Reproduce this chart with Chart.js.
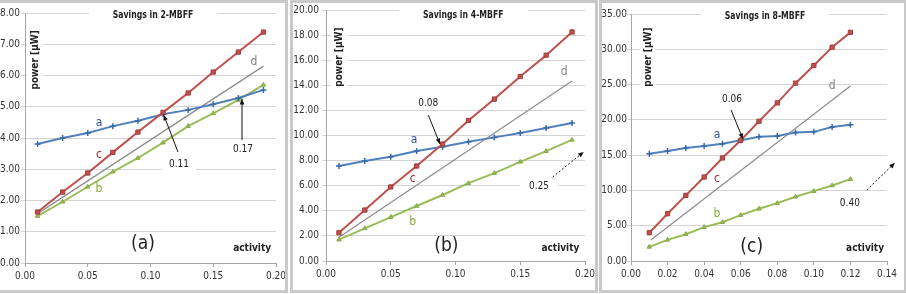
<!DOCTYPE html>
<html>
<head>
<meta charset="utf-8">
<script src="https://cdn.jsdelivr.net/npm/chart.js@4.4.1/dist/chart.umd.min.js"></script>
<style>
body { margin: 0; width: 906px; height: 294px; overflow: hidden; background: #fff; position: relative; }
.panel { position: absolute; top: 0; height: 293px; border: 3px solid #c9c9c9; box-sizing: border-box; background: #fff; }
.panel canvas { position: absolute; left: 0; top: 0; }
</style>
</head>
<body>
<div class="panel" style="left:-3px;width:291px"><canvas id="c1" width="285" height="287"></canvas></div>
<div class="panel" style="left:290px;width:308px"><canvas id="c2" width="302" height="287"></canvas></div>
<div class="panel" style="left:599px;width:308px"><canvas id="c3" width="302" height="287"></canvas></div>
<script>
// panel (a): 2-MBFF
const xs1 = [0.01, 0.03, 0.05, 0.07, 0.09, 0.11, 0.13, 0.15, 0.17, 0.19];
const a1 = [3.81, 4.00, 4.16, 4.38, 4.55, 4.76, 4.90, 5.08, 5.28, 5.54];
const c1 = [1.63, 2.27, 2.88, 3.54, 4.19, 4.82, 5.44, 6.11, 6.75, 7.39];
const b1 = [1.50, 1.96, 2.44, 2.92, 3.36, 3.85, 4.38, 4.79, 5.22, 5.70];
const dx1 = [0.01, 0.19];
const d1 = [1.58, 6.30];

// panel (b): 4-MBFF
const xs2 = [0.01, 0.03, 0.05, 0.07, 0.09, 0.11, 0.13, 0.15, 0.17, 0.19];
const a2 = [7.57, 7.97, 8.30, 8.76, 9.10, 9.50, 9.85, 10.20, 10.60, 11.00];
const c2 = [2.25, 4.06, 5.90, 7.57, 9.32, 11.20, 12.90, 14.70, 16.40, 18.25];
const b2 = [1.70, 2.60, 3.50, 4.38, 5.26, 6.20, 7.00, 7.90, 8.75, 9.65];
const dx2 = [0.01, 0.19];
const d2 = [1.90, 14.35];

// panel (c): 8-MBFF
const xs3 = [0.01, 0.02, 0.03, 0.04, 0.05, 0.06, 0.07, 0.08, 0.09, 0.10, 0.11, 0.12];
const a3 = [15.2, 15.6, 16.0, 16.3, 16.6, 17.1, 17.6, 17.7, 18.2, 18.3, 19.0, 19.3];
const c3 = [4.0, 6.7, 9.3, 11.9, 14.6, 17.1, 19.8, 22.4, 25.2, 27.7, 30.3, 32.4];
const b3 = [2.0, 3.0, 3.8, 4.8, 5.5, 6.5, 7.4, 8.2, 9.1, 9.9, 10.7, 11.6];
const dx3 = [0.011, 0.12];
const d3 = [3.0, 24.8];

const FONT = '"Liberation Sans Narrow", "DejaVu Sans Condensed", "Liberation Sans", sans-serif';

const pts = (xs, ys) => xs.map((x, i) => ({ x: x, y: ys[i] }));

// text / arrow overlay drawn in data coordinates
const notes = {
    id: 'notes',
    beforeDatasetsDraw(chart, args, opts) {
        const { ctx, scales: { x, y } } = chart;
        ctx.save();
        for (const t of opts.texts || []) {
            if (!t.bg) continue;
            ctx.font = t.font;
            const w = ctx.measureText(t.text).width * (t.sx || 1);
            const h = parseFloat(t.font.match(/(\d+(\.\d+)?)px/)[1]);
            const px = x.getPixelForValue(t.x), py = y.getPixelForValue(t.y);
            ctx.fillStyle = '#fff';
            if (t.rot) {
                ctx.fillRect(px - h / 2 - t.bg[1], py - w / 2 - t.bg[0], h + 2 * t.bg[1], w + 2 * t.bg[0]);
            } else {
                ctx.fillRect(px - w / 2 - t.bg[0], py - h / 2 - t.bg[1], w + 2 * t.bg[0], h + 2 * t.bg[1]);
            }
        }
        ctx.restore();
    },
    afterDatasetsDraw(chart, args, opts) {
        const { ctx, scales: { x, y } } = chart;
        ctx.save();
        for (const ar of opts.arrows || []) {
            const x0 = x.getPixelForValue(ar.from[0]), y0 = y.getPixelForValue(ar.from[1]);
            const x1 = x.getPixelForValue(ar.to[0]), y1 = y.getPixelForValue(ar.to[1]);
            ctx.strokeStyle = '#111';
            ctx.fillStyle = '#111';
            ctx.lineWidth = 1;
            ctx.setLineDash(ar.dash ? [2, 2] : []);
            ctx.beginPath();
            ctx.moveTo(x0, y0);
            ctx.lineTo(x1, y1);
            ctx.stroke();
            ctx.setLineDash([]);
            const ang = Math.atan2(y1 - y0, x1 - x0);
            ctx.beginPath();
            ctx.moveTo(x1, y1);
            ctx.lineTo(x1 - 6 * Math.cos(ang - 0.4), y1 - 6 * Math.sin(ang - 0.4));
            ctx.lineTo(x1 - 6 * Math.cos(ang + 0.4), y1 - 6 * Math.sin(ang + 0.4));
            ctx.closePath();
            ctx.fill();
        }
        for (const t of opts.texts || []) {
            const px = x.getPixelForValue(t.x), py = y.getPixelForValue(t.y);
            ctx.font = t.font;
            ctx.fillStyle = t.color || '#222';
            ctx.textAlign = 'center';
            ctx.textBaseline = 'middle';
            ctx.save();
            ctx.translate(px, py);
            if (t.rot) ctx.rotate(-Math.PI / 2);
            if (t.sx) ctx.scale(t.sx, 1);
            ctx.fillText(t.text, 0, 0);
            ctx.restore();
        }
        ctx.restore();
    }
};

function makePanel(id, p) {
    const tickFont = { family: FONT, size: 10 };
    new Chart(document.getElementById(id), {
        type: 'line',
        data: {
            datasets: [
                { data: pts(p.xs, p.c), borderColor: '#C0504D', borderWidth: 2, pointStyle: 'rect', pointRadius: 3,
                  pointBackgroundColor: '#C0504D', pointBorderColor: '#A33C39', pointBorderWidth: 1 },
                { data: pts(p.xs, p.a), borderColor: '#4F81BD', borderWidth: 2, pointStyle: 'cross', pointRadius: 3,
                  pointBorderColor: '#3A6BA8', pointBorderWidth: 1.5 },
                { data: pts(p.xs, p.b), borderColor: '#9BBB59', borderWidth: 2, pointStyle: 'triangle', pointRadius: 2.5,
                  pointBackgroundColor: '#9BBB59', pointBorderColor: '#86A845', pointBorderWidth: 1 },
                { data: pts(p.dx, p.d), borderColor: '#8C8C8C', borderWidth: 1.2, pointRadius: 0 }
            ]
        },
        options: {
            responsive: false,
            animation: false,
            layout: { padding: { top: p.pad[0], right: p.pad[1], bottom: 0, left: 0 } },
            plugins: {
                legend: { display: false },
                tooltip: { enabled: false },
                notes: { texts: p.texts, arrows: p.arrows }
            },
            scales: {
                x: {
                    type: 'linear', min: 0, max: p.xMax,
                    ticks: { stepSize: p.xStep, callback: v => v.toFixed(2), maxRotation: 0, autoSkip: false,
                             color: '#333', font: tickFont, padding: 3 },
                    grid: { drawOnChartArea: false, tickLength: 4, color: '#a6a6a6' },
                    border: { color: '#a6a6a6' },
                    afterFit: s => { s.height = p.xH; s.paddingLeft = 0; s.paddingRight = 0; }
                },
                y: {
                    min: 0, max: p.yMax,
                    ticks: { stepSize: p.yStep, callback: v => v.toFixed(2), color: '#333', font: tickFont, padding: p.yPad },
                    grid: { color: '#d4d4d4', tickLength: 4 },
                    border: { color: '#a6a6a6' },
                    afterFit: s => { s.width = p.yW; s.paddingTop = 0; s.paddingBottom = 0; }
                }
            }
        },
        plugins: [notes]
    });
}

const titleFont = 'bold 10.5px ' + FONT;
const axFont = 'bold 10px ' + FONT;
const numFont = '10px ' + FONT;
const letFont = '12px ' + FONT;
const bigFont = '19px ' + FONT;

makePanel('c1', {
    xs: xs1, a: a1, b: b1, c: c1, dx: dx1, d: d1,
    xMax: 0.2, xStep: 0.05, yMax: 8, yStep: 1, yW: 25, yPad: 1, xH: 27, pad: [10, 9],
    texts: [
        { text: 'Savings in 2-MBFF', x: 0.102, y: 7.94, font: titleFont, sx: 0.82, bg: [24, 3] },
        { text: 'power [µW]', x: 0.008, y: 6.5, font: axFont, rot: true, bg: [3, 3] },
        { text: 'a', x: 0.059, y: 4.5, font: letFont, color: '#2E4F9C' },
        { text: 'c', x: 0.059, y: 3.46, font: letFont, color: '#A2292B' },
        { text: 'b', x: 0.059, y: 2.38, font: letFont, color: '#8AA832' },
        { text: 'd', x: 0.1825, y: 6.45, font: letFont, color: '#808080' },
        { text: '0.11', x: 0.1227, y: 3.14, font: numFont, bg: [7, 2] },
        { text: '0.17', x: 0.1737, y: 3.65, font: numFont },
        { text: '(a)', x: 0.094, y: 0.62, font: bigFont },
        { text: 'activity', x: 0.181, y: 0.48, font: axFont }
    ],
    arrows: [
        { from: [0.1219, 3.55], to: [0.1105, 4.74] },
        { from: [0.1729, 3.94], to: [0.1729, 5.25] }
    ]
});

makePanel('c2', {
    xs: xs2, a: a2, b: b2, c: c2, dx: dx2, d: d2,
    xMax: 0.2, xStep: 0.05, yMax: 20, yStep: 2, yW: 33, yPad: 3, xH: 29, pad: [7, 10],
    texts: [
        { text: 'Savings in 4-MBFF', x: 0.106, y: 19.6, font: titleFont, sx: 0.82, bg: [24, 3] },
        { text: 'power [µW]', x: 0.010, y: 16.25, font: axFont, rot: true, bg: [3, 3] },
        { text: 'a', x: 0.068, y: 9.64, font: letFont, color: '#2E4F9C' },
        { text: 'c', x: 0.067, y: 6.53, font: letFont, color: '#A2292B' },
        { text: 'b', x: 0.067, y: 3.11, font: letFont, color: '#8AA832' },
        { text: 'd', x: 0.184, y: 15.06, font: letFont, color: '#808080' },
        { text: '0.08', x: 0.079, y: 12.59, font: numFont, bg: [6, 2] },
        { text: '0.25', x: 0.1645, y: 5.98, font: numFont, bg: [9, 2] },
        { text: '(b)', x: 0.093, y: 1.2, font: bigFont },
        { text: 'activity', x: 0.181, y: 1.04, font: axFont }
    ],
    arrows: [
        { from: [0.079, 11.63], to: [0.088, 9.32] },
        { from: [0.175, 6.69], to: [0.199, 8.69], dash: true }
    ]
});

makePanel('c3', {
    xs: xs3, a: a3, b: b3, c: c3, dx: dx3, d: d3,
    xMax: 0.14, xStep: 0.02, yMax: 35, yStep: 5, yW: 29, yPad: 0, xH: 29, pad: [11, 17],
    texts: [
        { text: 'Savings in 8-MBFF', x: 0.0733, y: 34.7, font: titleFont, sx: 0.82, bg: [24, 3] },
        { text: 'power [µW]', x: 0.0093, y: 28.9, font: axFont, rot: true, bg: [3, 3] },
        { text: 'a', x: 0.047, y: 17.85, font: letFont, color: '#2E4F9C' },
        { text: 'c', x: 0.047, y: 11.6, font: letFont, color: '#A2292B' },
        { text: 'b', x: 0.047, y: 6.66, font: letFont, color: '#8AA832' },
        { text: 'd', x: 0.110, y: 24.8, font: letFont, color: '#808080' },
        { text: '0.06', x: 0.0552, y: 22.9, font: numFont },
        { text: '0.40', x: 0.1197, y: 8.2, font: numFont },
        { text: '(c)', x: 0.066, y: 2.0, font: bigFont },
        { text: 'activity', x: 0.128, y: 1.84, font: axFont }
    ],
    arrows: [
        { from: [0.0547, 21.4], to: [0.0612, 17.3] },
        { from: [0.129, 10.06], to: [0.1443, 13.9], dash: true }
    ]
});
</script>
</body>
</html>
